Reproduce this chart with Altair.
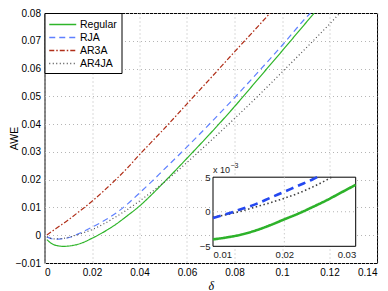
import altair as alt
import pandas as pd

# ---------------- data ----------------
series = ["Regular", "RJA", "AR3A", "AR4JA"]
colors = ["#2fb52a", "#5f80ff", "#b02e18", "#505050"]

reg_d = [0.001, 0.003, 0.005, 0.008, 0.01, 0.013, 0.016, 0.02, 0.024, 0.03, 0.035,
         0.04, 0.045, 0.05, 0.055, 0.06, 0.07, 0.08, 0.09, 0.1, 0.11, 0.1136]
reg_v = [-0.0016, -0.003, -0.0037, -0.004, -0.0039, -0.0035, -0.0027, -0.0011, 0.0007,
         0.0039, 0.0071, 0.0105, 0.0145, 0.0188, 0.0232, 0.0277, 0.0368, 0.0463, 0.0563, 0.0663,
         0.0764, 0.08]

rja_d = [0.001, 0.004, 0.007, 0.01, 0.015, 0.02, 0.025, 0.03, 0.035, 0.04, 0.045, 0.05, 0.06,
         0.07, 0.08, 0.09, 0.1, 0.11, 0.112]
rja_v = [-0.0006, -0.0014, -0.0013, -0.0009, 0.0008, 0.0029, 0.0052, 0.0079, 0.0113, 0.0152,
         0.0192, 0.0234, 0.0318, 0.0405, 0.0495, 0.0588, 0.0683, 0.0782, 0.08]

ar3a_d = [0.001, 0.005, 0.01, 0.015, 0.02, 0.025, 0.03, 0.035, 0.04, 0.045, 0.05, 0.055, 0.06,
          0.07, 0.08, 0.09, 0.095]
ar3a_v = [0.0001, 0.0025, 0.0055, 0.0088, 0.0122, 0.016, 0.02, 0.0243, 0.029, 0.0335, 0.038,
          0.0426, 0.0473, 0.0566, 0.066, 0.0753, 0.08]

ar4ja_d = [0.001, 0.004, 0.007, 0.01, 0.015, 0.02, 0.025, 0.03, 0.035, 0.04, 0.045, 0.05, 0.06,
           0.07, 0.08, 0.09, 0.1, 0.11, 0.12, 0.1244]
ar4ja_v = [-0.0006, -0.0013, -0.0012, -0.0008, 0.0005, 0.002, 0.0041, 0.0066, 0.0093, 0.0123,
           0.0155, 0.0188, 0.0262, 0.034, 0.042, 0.0502, 0.0587, 0.0673, 0.076, 0.08]

# inset (values in units of 1e-3)
in_reg_d = [0.01, 0.012, 0.014, 0.016, 0.018, 0.02, 0.022, 0.024, 0.026, 0.028, 0.03]
in_reg_v = [-4.0, -3.7, -3.3, -2.7, -1.95, -1.1, -0.25, 0.7, 1.7, 2.8, 3.9]
in_rja_d = [0.01, 0.012, 0.014, 0.016, 0.018, 0.02, 0.022, 0.024, 0.0246]
in_rja_v = [-0.9, -0.3, 0.4, 1.1, 2.0, 2.9, 3.8, 4.7, 5.0]
in_ar4_d = [0.01, 0.012, 0.014, 0.016, 0.018, 0.02, 0.022, 0.024, 0.026, 0.0266]
in_ar4_v = [-0.8, -0.4, 0.1, 0.7, 1.3, 1.95, 2.7, 3.6, 4.65, 5.0]

x_ticks = [0, 0.02, 0.04, 0.06, 0.08, 0.1, 0.12, 0.14]
y_ticks = [-0.01, 0, 0.01, 0.02, 0.03, 0.04, 0.05, 0.06, 0.07, 0.08]
in_x_ticks = [0.01, 0.02, 0.03]
in_y_ticks = [-5, 0, 5]

# ---------------- layout ----------------
W, H = 332.5, 250
IN_L, IN_R, IN_T, IN_B = 168.5, 311.2, 164.2, 233.3
FONT = "Liberation Sans"

main_df = pd.concat([
    pd.DataFrame({"delta": d, "awe": v, "series": s})
    for s, d, v in zip(series, [reg_d, rja_d, ar3a_d, ar4ja_d], [reg_v, rja_v, ar3a_v, ar4ja_v])
])

legend = alt.Legend(title=None, orient="none", legendX=0, legendY=0, fillColor="white",
                    strokeColor="black", padding=4, rowPadding=0,
                    symbolType="M-1,0H3", symbolSize=182, symbolStrokeWidth=1.3,
                    labelFont=FONT, labelFontSize=10.5, labelOffset=16.5, labelColor="black")

main = alt.Chart(main_df).mark_line(clip=True, strokeWidth=1.2, interpolate="monotone").encode(
    x=alt.X("delta:Q", scale=alt.Scale(domain=[0, 0.14], nice=False, zero=False),
            axis=alt.Axis(values=x_ticks, format="~g", title="δ", titleFont="Liberation Serif",
                          titleFontStyle="italic", titleFontWeight="normal", titleFontSize=12,
                          titleY=26, titleBaseline="alphabetic", labelPadding=4)),
    y=alt.Y("awe:Q", scale=alt.Scale(domain=[-0.01, 0.08], nice=False, zero=False),
            axis=alt.Axis(values=y_ticks, format="~g", title="AWE", titleFont=FONT,
                          titleFontWeight="normal", titleFontSize=10.5, titleX=-27.5,
                          titleBaseline="alphabetic", labelPadding=4)),
    color=alt.Color("series:N", scale=alt.Scale(domain=series, range=colors), legend=legend),
    strokeDash=alt.StrokeDash("series:N", scale=alt.Scale(
        domain=series, range=[[1, 0], [6, 4], [5, 2, 1.5, 2], [1, 2.5]]), legend=legend),
    order=alt.Order("delta:Q"),
)

in_x_axis = alt.Axis(orient="bottom", offset=-(H - IN_B), values=in_x_ticks, format="~g",
                     grid=False, domain=False, ticks=False, labelPadding=3, labelFontSize=9.5,
                     labelColor="#222", title=None, zindex=1)
in_y_axis = alt.Axis(orient="left", offset=-IN_L, values=in_y_ticks, format="~g", grid=False,
                     domain=False, ticks=False, labelPadding=3, labelFontSize=9.5,
                     labelColor="#222", title=None, zindex=1)
in_x = alt.X("d:Q", scale=alt.Scale(domain=[0.01, 0.03], range=[IN_L, IN_R], nice=False,
                                    zero=False), axis=in_x_axis)
in_y = alt.Y("v:Q", scale=alt.Scale(domain=[-5, 5], range=[IN_B, IN_T], nice=False,
                                    zero=False), axis=in_y_axis)

frame_df = pd.DataFrame({"d": [in_x_ticks[0]], "d2": [in_x_ticks[-1]],
                         "v": [in_y_ticks[0]], "v2": [in_y_ticks[-1]]})
frame = alt.Chart(frame_df).mark_rect(fill="white", stroke="black", strokeWidth=1).encode(
    x=in_x, x2="d2:Q", y=in_y, y2="v2:Q")

vgrid_df = pd.DataFrame({"d": [in_x_ticks[1]], "v": [in_y_ticks[0]], "v2": [in_y_ticks[-1]]})
vgrid = alt.Chart(vgrid_df).mark_rule(color="#b5b5b5", strokeDash=[1, 3], strokeWidth=1).encode(
    x=in_x, y=in_y, y2="v2:Q")
hgrid_df = pd.DataFrame({"d": [in_x_ticks[0]], "d2": [in_x_ticks[-1]], "v": [in_y_ticks[1]]})
hgrid = alt.Chart(hgrid_df).mark_rule(color="#b5b5b5", strokeDash=[1, 3], strokeWidth=1).encode(
    x=in_x, x2="d2:Q", y=in_y)

def inset_line(d, v, color, dash, width):
    return alt.Chart(pd.DataFrame({"d": d, "v": v})).mark_line(
        color=color, strokeDash=dash, strokeWidth=width, interpolate="monotone").encode(
        x=in_x, y=in_y, order=alt.Order("d:Q"))

l_ar4 = inset_line(in_ar4_d, in_ar4_v, "#404040", [1.5, 2.5], 1.6)
l_rja = inset_line(in_rja_d, in_rja_v, "#2448f0", [8, 5], 2.6)
l_reg = inset_line(in_reg_d, in_reg_v, "#2db22a", [1, 0], 2.6)

ann_df = pd.DataFrame({"d": [in_x_ticks[0]], "v": [in_y_ticks[-1]]})
ann1 = alt.Chart(ann_df).mark_text(text="x 10", align="left", baseline="alphabetic", dy=-4,
                                   dx=0, font=FONT, fontSize=9, color="#222").encode(
    x=in_x, y=in_y)
ann2 = alt.Chart(ann_df).mark_text(text="−3", align="left", baseline="alphabetic", dy=-9,
                                   dx=17.5, font=FONT, fontSize=7, color="#222").encode(
    x=in_x, y=in_y)

inset = alt.layer(frame, vgrid, hgrid, l_ar4, l_rja, l_reg, ann1, ann2)

chart = alt.layer(main, inset).resolve_scale(x="independent", y="independent").properties(
    width=W, height=H,
    autosize=alt.AutoSizeParams(type="none"),
    padding={"left": 36.5, "top": 5, "right": 3, "bottom": 30},
).configure_view(stroke="black", strokeWidth=1).configure_axis(
    grid=True, gridColor="#b5b5b5", gridDash=[1, 3], gridWidth=1, ticks=False, domain=False,
    labelFont=FONT, labelFontSize=10, labelColor="black", titleColor="black",
)

chart.save("out.html", embed_options={"renderer": "svg", "actions": False})
